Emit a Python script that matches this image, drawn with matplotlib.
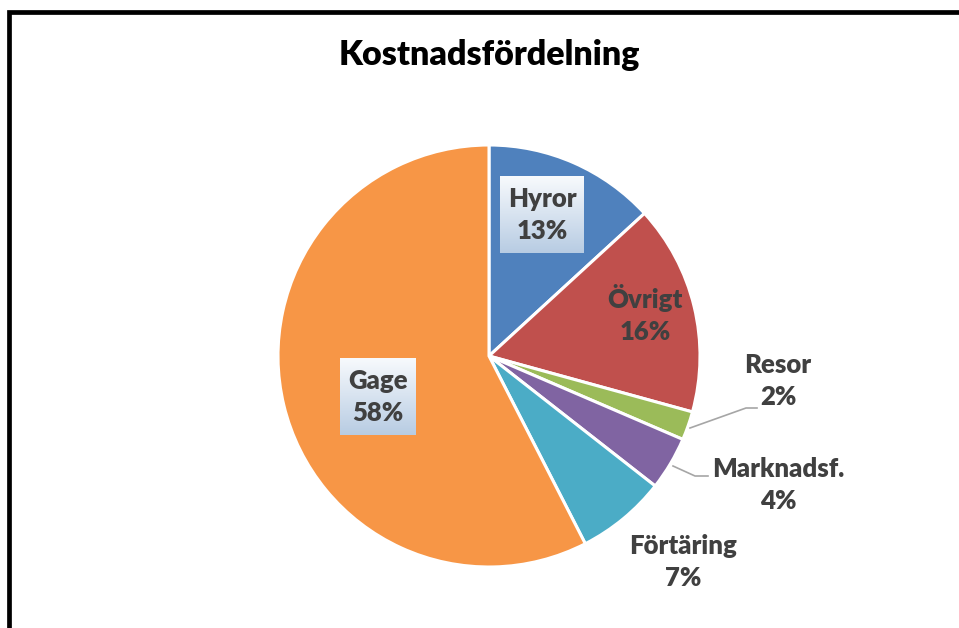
import matplotlib
matplotlib.use("Agg")
import matplotlib.pyplot as plt
import numpy as np
from matplotlib.lines import Line2D

plt.rcParams['font.family'] = ['Lato', 'DejaVu Sans']

# ---- data ----
categories = ["Hyror", "Övrigt", "Resor", "Marknadsf.", "Förtäring", "Gage"]
values = [13.2, 16.1, 2.2, 4.1, 6.9, 57.6]
title = "Kostnadsfördelning"

# ---- styles / layout ----
colors = ["#4F81BD", "#C0504D", "#9BBB59", "#8064A2", "#4BACC6", "#F79646"]
W, H = 959, 628
center_px = (489, 356)
radius_px = 211
# label centres in image pixels (x, y from top)
label_pos = [(542, 215), (645, 314), (778, 381), (778, 485), (683, 562), (378, 397)]
boxed = [True, False, False, False, False, True]
box_size = [(84, 77), None, None, None, None, (76, 77)]
leaders = {2: [(690, 428), (746, 408), (757, 408)],
           3: [(673, 466), (695, 476), (708, 476)]}

fig = plt.figure(figsize=(W / 100, H / 100), dpi=100)
ax = fig.add_axes([0, 0, 1, 1])

def Y(y):
    return H - y

ax.pie(values, colors=colors, startangle=90, counterclock=False,
       center=(center_px[0], Y(center_px[1])), radius=radius_px,
       wedgeprops=dict(edgecolor='white', linewidth=2.2), frame=True)
ax.set_xlim(0, W)
ax.set_ylim(0, H)
ax.set_aspect('equal')
ax.axis('off')

total = sum(values)
grad = np.linspace(0, 1, 100).reshape(-1, 1)
top = np.array([0.97, 0.98, 0.99])
bot = np.array([0.72, 0.80, 0.89])
img = top[None, None, :] * (1 - grad[..., None]) + bot[None, None, :] * grad[..., None]

for i, (cat, v) in enumerate(zip(categories, values)):
    x, y = label_pos[i]
    if boxed[i]:
        bw, bh = box_size[i]
        ax.imshow(img, extent=(x - bw / 2, x + bw / 2, Y(y + bh / 2), Y(y - bh / 2)),
                  origin='upper', aspect='auto', zorder=3)
    pct = int(v / total * 100 + 0.5)
    ax.text(x, Y(y), f"{cat}\n{pct}%", ha='center', va='center',
            fontsize=18.5, fontweight='heavy', color='#404040',
            linespacing=1.4, zorder=4)

for k, pts in leaders.items():
    xs = [p[0] for p in pts]
    ys = [Y(p[1]) for p in pts]
    ax.plot(xs, ys, color='#A6A6A6', linewidth=1.2, zorder=2)

ax.text(489, Y(55), title, ha='center', va='center', fontsize=24.5,
        fontweight='heavy', color='black')

# outer frame (left and top visible)
fig.add_artist(Line2D([8.5 / W, 8.5 / W, 1.0], [0, 1 - 11.5 / H, 1 - 11.5 / H],
                      transform=fig.transFigure, color='black', linewidth=3.4,
                      solid_joinstyle='miter'))

fig.savefig("out.png", dpi=100)
